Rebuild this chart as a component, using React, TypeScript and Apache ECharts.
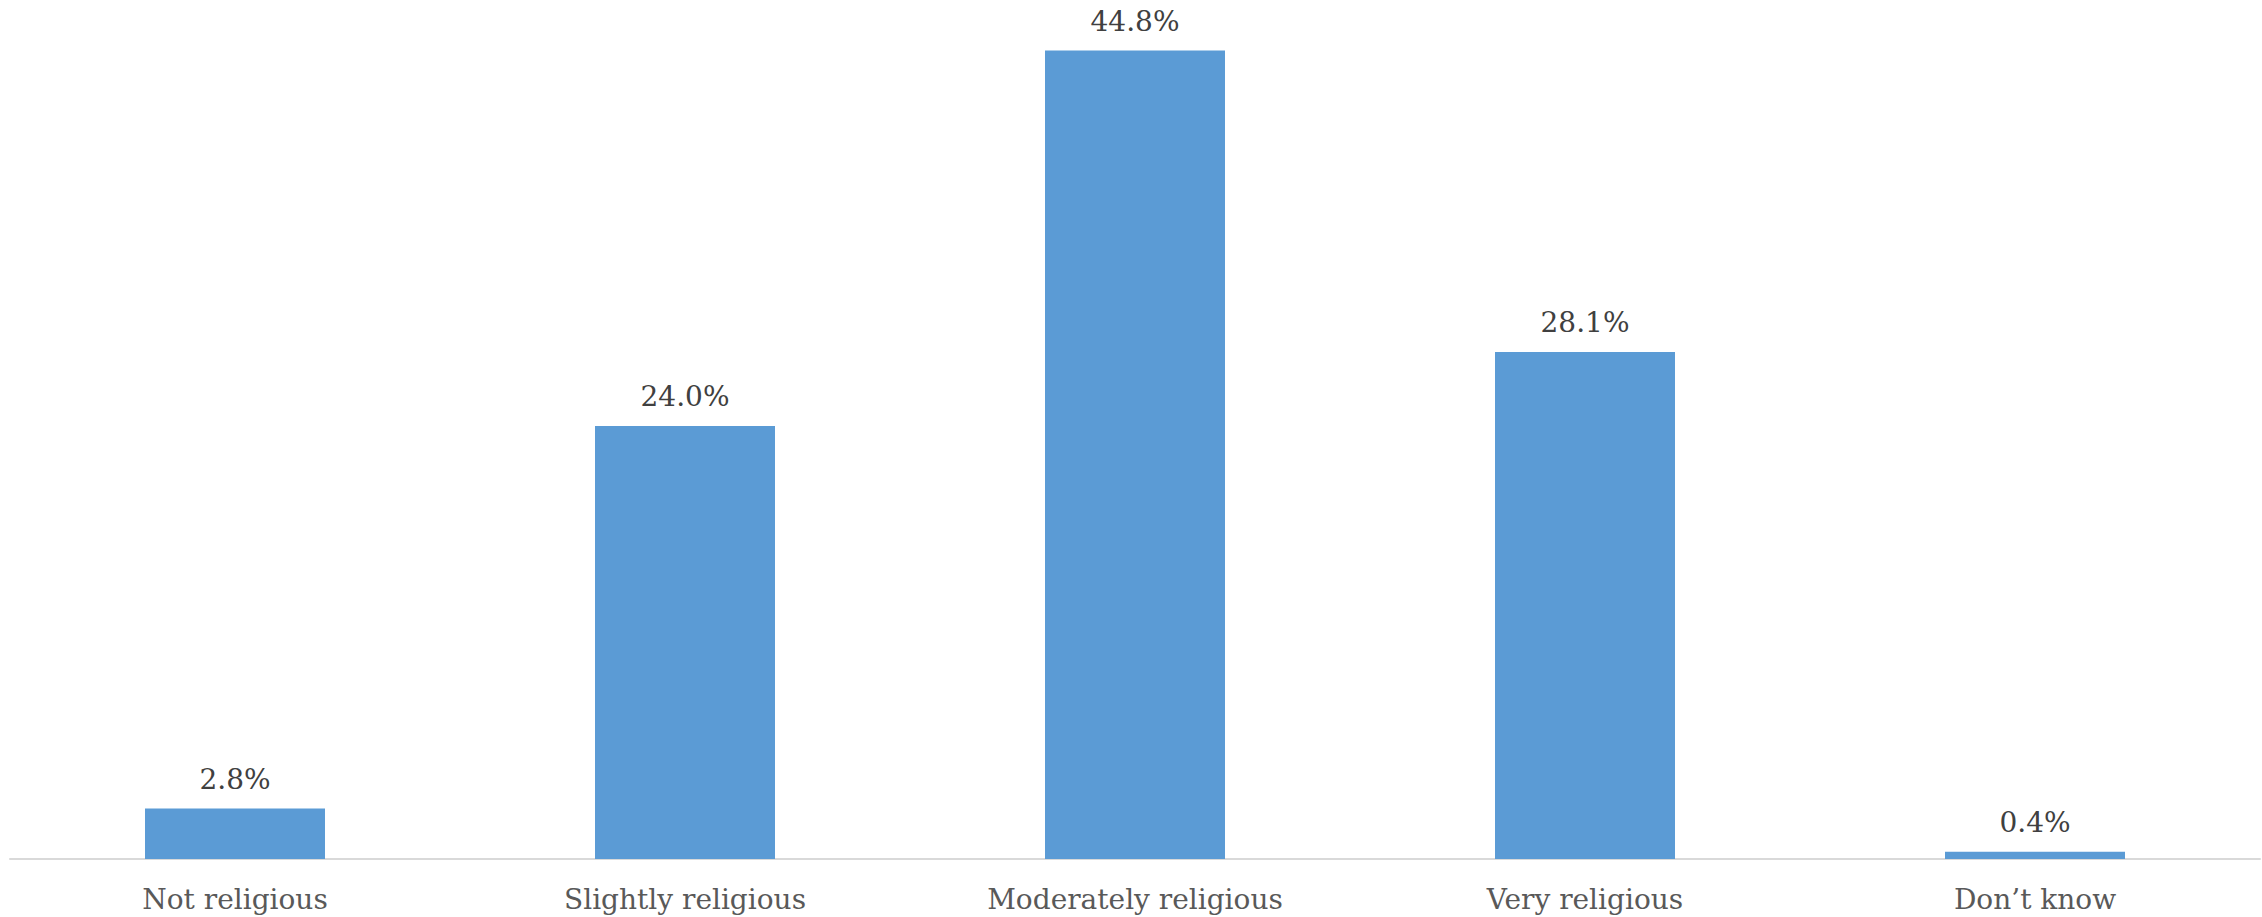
import React, { useEffect, useRef } from "react";
import * as echarts from "echarts";

const categories = ["Not religious", "Slightly religious", "Moderately religious", "Very religious", "Don’t know"];
const values = [2.8, 24.0, 44.8, 28.1, 0.4];

export default function App() {
  const ref = useRef<HTMLDivElement>(null);
  useEffect(() => {
    document.body.style.margin = "0";
    const chart = echarts.init(ref.current!, null, { renderer: "svg" });
    chart.setOption({
      animation: false,
      backgroundColor: "#ffffff",
      grid: { left: 10, right: 2, top: 47, bottom: 58, containLabel: false },
      xAxis: {
        type: "category",
        data: categories,
        axisLine: { show: true, lineStyle: { color: "#D9D9D9", width: 2 } },
        axisTick: { show: false },
        axisLabel: {
          color: "#595959",
          fontFamily: "DejaVu Serif",
          fontSize: 28,
          margin: 26,
        },
      },
      yAxis: {
        type: "value",
        min: 0,
        max: 45,
        show: false,
        splitLine: { show: false },
      },
      series: [
        {
          type: "bar",
          data: values,
          barCategoryGap: "60%",
          itemStyle: { color: "#5B9BD5" },
          label: {
            show: true,
            position: "top",
            distance: 15,
            color: "#404040",
            fontFamily: "DejaVu Serif",
            fontSize: 28,
            formatter: (p: any) => p.value.toFixed(1) + "%",
          },
        },
      ],
    });
    return () => chart.dispose();
  }, []);
  return <div ref={ref} style={{ width: 2262, height: 917 }} />;
}
